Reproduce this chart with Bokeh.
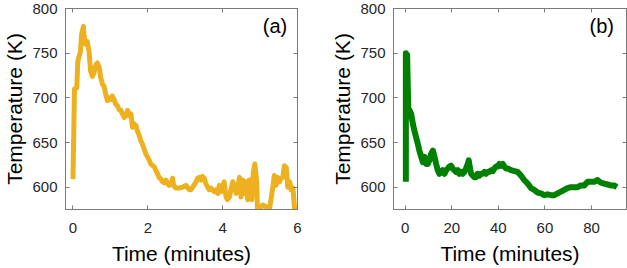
from bokeh.plotting import figure
from bokeh.layouts import row
from bokeh.models import LinearAxis, FixedTicker, Range1d, Label
from bokeh.embed import file_html
from bokeh.resources import INLINE

# ---- data panel (a) ----
time_a = [0.0, 0.04, 0.1, 0.13, 0.2, 0.23, 0.28, 0.29, 0.34, 0.38, 0.43, 0.47, 0.52, 0.56, 0.61,
          0.65, 0.7, 0.74, 0.79, 0.83, 0.875, 0.92, 0.96, 1.0, 1.05, 1.1, 1.14, 1.19, 1.23, 1.28,
          1.32, 1.37, 1.41, 1.46, 1.5, 1.55, 1.59, 1.63, 1.68, 1.72, 1.77, 1.81, 1.86, 1.9, 1.95,
          1.99, 2.04, 2.08, 2.13, 2.17, 2.21, 2.26, 2.3, 2.35, 2.39, 2.44, 2.48, 2.53, 2.57, 2.62,
          2.66, 2.69, 2.75, 2.84, 2.93, 3.02, 3.11, 3.15, 3.2, 3.29, 3.33, 3.38, 3.42, 3.46, 3.51,
          3.55, 3.6, 3.64, 3.69, 3.73, 3.78, 3.82, 3.87, 3.91, 3.96, 4.0, 4.04, 4.09, 4.13, 4.18,
          4.22, 4.27, 4.31, 4.36, 4.4, 4.45, 4.49, 4.54, 4.58, 4.62, 4.67, 4.71, 4.74, 4.78, 4.82,
          4.86, 4.91, 4.93, 4.98, 5.07, 5.16, 5.25, 5.29, 5.34, 5.38, 5.43, 5.47, 5.52, 5.56, 5.61,
          5.65, 5.7, 5.74, 5.79, 5.83, 5.88, 5.92, 6.0]
temp_a = [609, 710, 711, 741, 752, 771, 780, 771, 760, 763, 752, 730, 724, 728, 737,
          739, 734, 723, 715, 713, 704, 697, 700, 698, 702, 698, 693, 691, 687, 686,
          682, 678, 680, 686, 680, 682, 667, 671, 669, 663, 658, 652, 648, 643, 637,
          634, 630, 626, 624, 623, 619, 615, 611, 609, 606, 605, 608, 604, 602, 604,
          610, 602, 599, 599, 600, 602, 597, 597, 600, 606, 610, 611, 608, 612, 610,
          604, 600, 597, 599, 597, 595, 597, 593, 602, 595, 600, 606, 589, 586, 589,
          597, 606, 602, 593, 599, 611, 589, 608, 593, 606, 586, 608, 608, 586, 617,
          626, 606, 576, 576, 580, 578, 575, 586, 600, 613, 602, 611, 606, 610, 611,
          624, 622, 600, 606, 597, 599, 576, 576]

# ---- data panel (b) ----
time_b = [0.3, 0.3, 0.86, 1.1, 1.4, 1.9, 2.6, 3.3, 4.0, 4.7, 5.4, 6.1, 6.9, 7.6, 8.3, 9.0, 9.7,
          10.4, 11.1, 11.9, 12.6, 13.3, 14.0, 14.7, 15.4, 16.1, 16.9, 17.6, 18.3, 19.0, 19.7,
          20.4, 21.1, 21.9, 22.6, 23.3, 24.0, 24.7, 25.4, 26.1, 26.9, 27.3, 27.7, 28.3, 29.0,
          29.7, 30.4, 31.1, 31.9, 32.6, 33.3, 34.0, 34.7, 35.4, 36.1, 36.9, 37.6, 38.3, 39.0,
          39.7, 40.4, 41.1, 41.9, 42.6, 43.3, 44.0, 45.4, 46.9, 48.3, 49.7, 51.1, 52.6, 54.0,
          55.4, 56.9, 58.3, 59.7, 61.1, 62.6, 64.0, 65.4, 66.9, 68.3, 69.7, 71.1, 72.6, 74.0,
          75.4, 76.9, 78.3, 79.7, 81.1, 82.6, 84.0, 85.4, 86.9, 88.3, 89.7, 90.9]
temp_b = [606, 750, 748, 715, 682, 686, 682, 671, 663, 656, 649, 641, 634, 628, 634, 626, 626,
          630, 637, 641, 634, 626, 619, 615, 617, 619, 615, 619, 621, 623, 624,
          621, 619, 617, 619, 615, 617, 615, 617, 621, 626, 630, 623, 615, 613,
          611, 611, 615, 613, 615, 615, 617, 615, 617, 617, 619, 618, 621, 623,
          623, 626, 624, 626, 623, 621, 621, 619, 618, 617, 613, 608, 604, 599,
          597, 594, 593, 591, 592, 591, 591, 593, 595, 597, 599, 600, 600, 600,
          602, 602, 606, 606, 606, 608, 605, 604, 603, 602, 602, 600]

ticks_a = [0, 2, 4, 6]
ticks_b = [0, 20, 40, 60, 80]
ticks_y = [600, 650, 700, 750, 800]

FONT = "Liberation Sans"
BOX = "#7a7a7a"
TXT = "#262626"


def make(xs, ys, color, lw, xr, xticks, label, label_x, width, border_left, border_right):
    p = figure(width=width, height=268, output_backend="svg", toolbar_location=None,
               x_range=Range1d(*xr), y_range=Range1d(575, 800),
               min_border_left=border_left, min_border_right=border_right,
               min_border_top=8, min_border_bottom=59,
               x_axis_label="Time (minutes)", y_axis_label="Temperature (K)")
    p.grid.visible = False
    p.outline_line_color = BOX
    p.background_fill_color = "white"
    p.border_fill_color = "white"
    p.line(xs, ys, line_color=color, line_width=lw, line_join="round")

    p.xaxis.ticker = FixedTicker(ticks=xticks)
    p.yaxis.ticker = FixedTicker(ticks=ticks_y)
    for ax in (p.xaxis[0], p.yaxis[0]):
        ax.axis_line_color = BOX
        ax.major_tick_line_color = BOX
        ax.major_tick_in = 4
        ax.major_tick_out = 0
        ax.minor_tick_line_color = None
        ax.major_label_text_font = FONT
        ax.major_label_text_font_size = "15px"
        ax.major_label_text_color = TXT
        ax.axis_label_text_font = FONT
        ax.axis_label_text_font_size = "21px"
        ax.axis_label_text_font_style = "normal"
        ax.axis_label_text_color = "#000000"
    p.xaxis.major_label_standoff = 13
    p.xaxis.axis_label_standoff = 6
    p.yaxis.major_label_standoff = 8
    p.yaxis.axis_label_standoff = 3

    # mirrored ticks on top and right (no labels)
    for side, tk in (("above", xticks), ("right", ticks_y)):
        ax = LinearAxis(ticker=FixedTicker(ticks=tk),
                        major_label_overrides={t: "" for t in tk},
                        major_label_standoff=0, major_tick_in=4, major_tick_out=0,
                        minor_tick_line_color=None, axis_line_color=BOX,
                        major_tick_line_color=BOX)
        p.add_layout(ax, side)

    p.add_layout(Label(x=label_x, y=780, text=label, text_font=FONT, text_font_size="20px",
                       text_color="#000000", text_align="center", text_baseline="middle"))
    return p


p1 = make(time_a, temp_a, "#EDB120", 5, (-0.2, 6.0), ticks_a, "(a)", 5.4, 310, 65, 13)
p2 = make(time_b, temp_b, "#008000", 6, (-5, 95), ticks_b, "(b)", 84.4, 317, 83, 1)

layout = row(p1, p2)
open("out.html", "w").write(file_html(layout, INLINE))
